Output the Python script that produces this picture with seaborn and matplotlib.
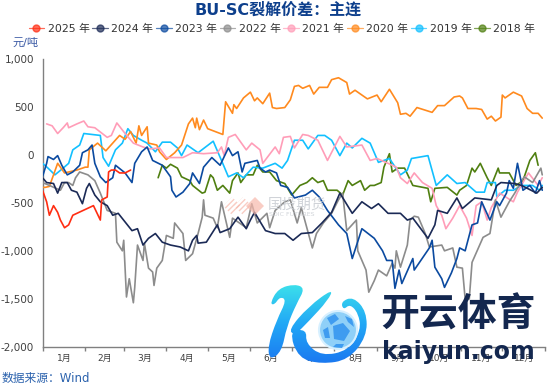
import matplotlib
matplotlib.use('Agg')
import matplotlib.pyplot as plt
from matplotlib.colors import LinearSegmentedColormap
from matplotlib.lines import Line2D
from matplotlib.patches import Circle, PathPatch, Polygon
from matplotlib.path import Path
from matplotlib.ticker import FuncFormatter
import numpy as np
import seaborn as sns

# x = day of year, y = yuan/ton
d2025 = [0, 3, 5, 8, 11, 13, 16, 19, 22, 25, 34, 37, 42, 43, 47, 48, 50, 53, 56, 60, 64]
v2025 = [-370, -490, -630, -530, -600, -680, -760, -730, -630, -610, -550, -530, -680, -470, -440, -180, -160, -160, -190, -190, -160]

d2024 = [0, 3, 8, 11, 14, 18, 21, 25, 29, 32, 34, 38, 42, 47, 51, 55, 60, 65, 69, 73, 77, 82, 87, 93, 100, 106, 109, 112, 113, 119, 127, 129, 136, 142, 148, 151, 154, 162, 169, 176, 182, 188, 196, 203, 210, 216, 225, 232, 239, 244, 251, 260, 265, 269, 280, 285, 287, 294, 301, 305, 314, 326, 330, 333, 343, 348, 359, 363]
v2024 = [-240, -290, -300, -400, -290, -290, -370, -390, -510, -350, -300, -420, -490, -530, -630, -610, -700, -790, -770, -940, -870, -820, -910, -940, -960, -1000, -890, -840, -920, -910, -730, -810, -770, -650, -770, -680, -600, -790, -820, -820, -890, -820, -810, -710, -600, -400, -610, -490, -560, -510, -610, -610, -680, -660, -870, -730, -580, -610, -450, -560, -450, -470, -320, -290, -300, -320, -400, -340]

d2023 = [0, 3, 4, 8, 11, 14, 18, 22, 27, 29, 33, 36, 38, 42, 46, 51, 53, 60, 65, 67, 72, 76, 80, 87, 93, 94, 97, 102, 107, 109, 114, 117, 123, 129, 135, 138, 142, 145, 147, 156, 158, 162, 165, 170, 173, 178, 183, 191, 196, 201, 207, 215, 221, 225, 232, 241, 247, 250, 254, 256, 259, 261, 269, 270, 281, 283, 285, 290, 292, 297, 301, 303, 307, 312, 316, 319, 325, 330, 332, 337, 339, 342, 345, 349, 354, 358, 361, 363]
v2023 = [-230, -90, -20, -50, -10, -110, -210, -180, -110, 20, 50, 100, -90, -230, -290, -240, -110, -190, -290, -90, 30, 80, -60, -110, -230, -370, -440, -390, -300, -190, -300, -130, -30, -110, 70, -10, 30, -180, -90, -60, -140, -180, -160, -190, -320, -340, -450, -420, -370, -440, -580, -730, -820, -1080, -770, -870, -1000, -1100, -1100, -1390, -1200, -1340, -1080, -1200, -970, -890, -1170, -1290, -1380, -1230, -1080, -970, -1000, -730, -710, -490, -680, -490, -530, -400, -270, -350, -90, -370, -320, -400, -270, -370]

d2022 = [0, 5, 13, 16, 19, 22, 24, 27, 33, 38, 42, 47, 53, 54, 58, 59, 61, 63, 66, 67, 69, 73, 74, 77, 80, 81, 83, 87, 90, 95, 96, 102, 104, 109, 113, 116, 117, 118, 124, 127, 130, 136, 138, 143, 148, 152, 156, 163, 165, 169, 176, 180, 185, 188, 196, 199, 204, 210, 215, 218, 221, 228, 229, 235, 237, 241, 244, 250, 254, 256, 257, 260, 265, 267, 270, 273, 278, 281, 290, 292, 298, 301, 305, 307, 310, 312, 320, 325, 329, 333, 339, 343, 348, 350, 356, 362, 363]
v2022 = [-290, -320, -370, -290, -290, -320, -240, -180, -210, -270, -400, -580, -610, -910, -1000, -890, -1480, -1290, -1540, -1380, -940, -1100, -920, -1180, -1220, -1360, -1180, -1100, -840, -870, -710, -820, -1100, -1030, -820, -650, -470, -630, -660, -760, -490, -860, -660, -710, -760, -510, -710, -610, -760, -580, -490, -470, -710, -550, -970, -820, -710, -610, -470, -400, -790, -680, -1000, -1200, -1430, -1310, -1200, -1260, -1130, -1180, -1000, -1170, -940, -680, -640, -650, -820, -960, -940, -1000, -970, -1170, -1180, -1500, -1500, -1120, -860, -820, -470, -650, -490, -400, -270, -230, -290, -140, -210]

d2021 = [3, 7, 11, 15, 18, 19, 25, 30, 33, 38, 47, 50, 54, 60, 66, 73, 78, 85, 90, 102, 109, 117, 127, 130, 132, 135, 140, 148, 152, 158, 160, 169, 172, 175, 180, 183, 189, 193, 200, 207, 216, 221, 232, 238, 243, 251, 257, 260, 265, 270, 276, 283, 286, 290, 293, 298, 303, 308, 312, 315, 319, 323, 326, 332, 342, 345, 353, 360, 363]
v2021 = [320, 300, 220, 280, 330, 280, 320, 350, 290, 280, 180, 200, 330, 220, 120, 80, 60, 70, -30, -30, 20, 10, 20, 80, -10, 180, 210, 50, 120, 50, -90, 80, 10, 180, 190, 70, 210, 200, 150, -60, 190, 80, 100, -60, -40, -90, -130, -240, -300, -190, -290, -350, -530, -630, -770, -660, -530, -660, -840, -530, -490, -680, -550, -400, -490, -390, -190, -320, -240]

d2020 = [0, 2, 5, 8, 11, 16, 25, 31, 33, 34, 40, 46, 51, 56, 60, 64, 68, 70, 72, 76, 77, 83, 85, 90, 96, 101, 106, 109, 111, 112, 114, 117, 120, 131, 133, 138, 139, 141, 146, 151, 154, 156, 160, 165, 167, 170, 176, 180, 183, 186, 189, 194, 197, 201, 207, 210, 215, 221, 223, 227, 231, 236, 243, 246, 252, 258, 260, 264, 267, 272, 283, 287, 292, 299, 303, 305, 309, 315, 319, 323, 326, 329, 333, 334, 336, 342, 348, 352, 356, 360, 363]
v2020 = [-340, -340, -330, -210, -90, -190, -160, -130, -130, 50, 120, 40, 120, 200, 160, 240, 120, 300, 200, 290, 120, 100, 30, -50, 20, 100, 320, 380, 280, 380, 260, 360, 270, 210, 550, 430, 520, 480, 590, 650, 560, 590, 530, 640, 490, 480, 490, 570, 710, 720, 690, 720, 630, 700, 700, 780, 800, 750, 630, 670, 630, 580, 620, 550, 680, 540, 420, 430, 400, 490, 440, 510, 510, 600, 610, 590, 480, 480, 470, 370, 400, 350, 390, 620, 590, 650, 610, 480, 430, 430, 380]

d2019 = [0, 4, 9, 15, 19, 22, 27, 30, 42, 44, 48, 53, 58, 62, 66, 72, 76, 82, 87, 93, 98, 101, 105, 113, 124, 130, 135, 141, 146, 153, 160, 169, 174, 178, 183, 189, 193, 200, 205, 210, 216, 221, 225, 232, 238, 244, 252, 260, 265, 268, 280, 286, 294, 301, 307, 315, 321, 323, 329, 330, 336, 342, 348, 356, 361, 363]
v2019 = [-90, -140, -210, -140, -90, 50, 100, 220, 200, -30, -120, 50, 120, 270, 200, 150, 120, 30, 130, 130, 70, -10, 100, 20, 140, -60, -230, -190, -240, -130, -140, -90, -140, -60, 150, 150, 60, 200, 200, 150, -10, 120, 70, 170, 120, -80, -40, -210, -160, -40, -10, -320, -210, -300, -290, -390, -390, -290, -290, -440, -370, -370, -320, -320, -370, -320]

d2018 = [84, 87, 90, 93, 98, 101, 107, 109, 116, 118, 122, 124, 127, 131, 136, 138, 142, 144, 148, 153, 156, 160, 165, 170, 176, 181, 187, 192, 196, 200, 204, 207, 214, 218, 222, 225, 231, 234, 238, 241, 246, 248, 252, 254, 258, 263, 269, 280, 282, 285, 294, 301, 303, 308, 312, 314, 318, 323, 326, 331, 332, 339, 344, 349, 354, 358, 360]
v2018 = [-240, -110, -140, -100, -140, -230, -270, -320, -400, -390, -210, -240, -370, -320, -400, -270, -190, -290, -210, -210, -110, -180, -180, -270, -300, -420, -320, -290, -240, -290, -270, -370, -370, -420, -270, -320, -270, -370, -320, -320, -290, -130, 10, -180, -140, -140, -320, -350, -490, -350, -340, -420, -370, -320, -140, -180, -90, -240, -320, -140, -190, -190, -320, -270, -60, 20, -110]

years = ['2025 年', '2024 年', '2023 年', '2022 年', '2021 年', '2020 年', '2019 年', '2018 年']
colors = ['#ff2d12', '#1b2a56', '#0b4aa0', '#8c8c8c', '#ff9db8', '#ff8a1e', '#12c0ff', '#4f7f10']
days = [d2025, d2024, d2023, d2022, d2021, d2020, d2019, d2018]
vals = [v2025, v2024, v2023, v2022, v2021, v2020, v2019, v2018]

month_starts = [0, 31, 59, 90, 120, 151, 181, 212, 243, 273, 304, 334, 365]
month_names = ['1月', '2月', '3月', '4月', '5月', '6月', '7月', '8月', '9月', '10月', '11月', '12月']

sns.set_theme(style='white')
plt.rcParams['font.family'] = ['DejaVu Sans', 'Noto Sans CJK SC']

fig = plt.figure(figsize=(5.5, 3.85), dpi=100)
ax = fig.add_axes([42.5 / 550, 1 - 347 / 385, 502.5 / 550, 288.5 / 385])

# newest years end up on top
for i in range(len(years) - 1, -1, -1):
    sns.lineplot(x=days[i], y=vals[i], color=colors[i], linewidth=1.2, sort=False,
                 errorbar=None, ax=ax, zorder=3 + len(years) - i)

ax.set_xlim(0, 365)
ax.set_ylim(-2000, 1000)
ax.set_yticks([1000, 500, 0, -500, -1000, -1500, -2000])
ax.yaxis.set_major_formatter(FuncFormatter(lambda v, p: f'{int(v):,}'))
ax.tick_params(axis='y', labelsize=7.5, length=3, width=1, color='#808080', labelcolor='#404040', pad=3)
ax.set_xticks(month_starts)
ax.set_xticklabels([])
ax.set_xticks([(month_starts[i] + month_starts[i + 1]) / 2 for i in range(12)], minor=True)
ax.set_xticklabels(month_names, minor=True, fontsize=6.5, color='#404040')
ax.tick_params(axis='x', which='major', length=3, width=1, color='#808080', bottom=True)
ax.tick_params(axis='x', which='minor', length=0, bottom=False, pad=5)
sns.despine(ax=ax)
for s in ['left', 'bottom']:
    ax.spines[s].set_color('#808080')
    ax.spines[s].set_linewidth(1.0)
ax.set_xlabel('')
ax.set_ylabel('')

fig.text(278.5 / 550, 1 - 10 / 385, 'BU-SC裂解价差：主连', ha='center', va='center', fontsize=11.5,
         fontweight='bold', color='#0d3f8c')
fig.text(12 / 550, 1 - 43 / 385, '元/吨', ha='left', va='center', fontsize=8, color='#3b5aa5')
fig.text(2 / 550, 1 - 378 / 385, '数据来源：Wind', ha='left', va='center', fontsize=8.5, color='#2b62ad')

handles = [Line2D([], [], color=c, linewidth=0.9, alpha=0.7, marker='o', markersize=5,
                  markerfacecolor=c, markeredgecolor=c) for c in colors]
fig.legend(handles, years, loc='center', bbox_to_anchor=(282 / 550, 1 - 29 / 385), ncol=8, frameon=False,
           fontsize=7.8, labelcolor='#333333', handlelength=1.45, handletextpad=0.3, columnspacing=0.25,
           borderpad=0, borderaxespad=0)

# watermarks on top of the chart
over = fig.add_axes([0, 0, 1, 1], zorder=20)
over.patch.set_alpha(0)
for cx, hatch in [(232, '//////'), (243, '//////'), (255, None)]:
    over.add_patch(Polygon([(cx - 9, 206), (cx, 197), (cx + 9, 206), (cx, 215)], closed=True,
                           facecolor='#f7b8ab' if hatch is None else 'none',
                           edgecolor='#f7b8ab', hatch=hatch, lw=0, alpha=0.7))
over.text(268, 204, '国投期货', fontsize=10.5, color='#c8ccd2', alpha=0.85, va='center', ha='left')
over.text(269, 214, 'SDIC FUTURES', fontsize=4.5, color='#c8ccd2', alpha=0.85, va='center', ha='left')

over.text(458, 315, '开云体育', fontsize=28, fontweight='bold', color='#13274f', ha='center', va='center')
over.text(458, 352, 'kaiyun.com', fontsize=17, fontweight='bold', color='#13274f', ha='center', va='center')


# logo outline, smoothed through the midpoints of each list
def smooth(pts):
    pts = [(265 + x / 3, 280 + y / 3) for x, y in pts]
    verts = [((pts[-1][0] + pts[0][0]) / 2, (pts[-1][1] + pts[0][1]) / 2)]
    codes = [Path.MOVETO]
    for j, p in enumerate(pts):
        q = pts[(j + 1) % len(pts)]
        verts += [p, ((p[0] + q[0]) / 2, (p[1] + q[1]) / 2)]
        codes += [Path.CURVE3, Path.CURVE3]
    return Path(verts, codes)


left_stroke = [(15, 70), (40, 25), (90, 12), (120, 25), (95, 70), (65, 140), (50, 215), (15, 240),
               (8, 200), (35, 120), (65, 60), (45, 50), (28, 75)]
arm = [(70, 150), (130, 80), (205, 25), (190, 60), (130, 125), (90, 165)]
bowl = [(72, 152), (125, 148), (122, 190), (170, 228), (250, 212), (288, 150), (280, 100), (255, 72),
        (235, 90), (228, 65), (265, 50), (305, 95), (305, 170), (250, 240), (170, 252), (100, 235)]
paths = Path.make_compound_path(smooth(left_stroke), smooth(arm), smooth(bowl))
grad = np.linspace(0, 1, 120).reshape(-1, 1)
cmap = LinearSegmentedColormap.from_list('logo', ['#3fe6ea', '#22a8f6', '#1a74f0'])
im = over.imshow(grad, extent=(265, 375, 367, 280), cmap=cmap, aspect='auto')
im.set_clip_path(PathPatch(paths, transform=over.transData))

over.add_patch(Circle((338, 330), 19, facecolor='#8fd0f8', edgecolor='#d7f0ff', lw=1.5))
over.add_patch(Polygon([(333, 326), (343, 323), (350, 331), (344, 341), (334, 339)], color='#3f9cf0', lw=0))
over.add_patch(Polygon([(327, 318), (335, 314), (339, 319), (331, 325)], color='#3f9cf0', lw=0))
over.add_patch(Polygon([(345, 316), (352, 319), (354, 327), (348, 322)], color='#3f9cf0', lw=0))
over.add_patch(Polygon([(323, 330), (328, 327), (330, 338), (325, 338)], color='#3f9cf0', lw=0))
over.add_patch(Polygon([(336, 344), (344, 344), (342, 348), (333, 347)], color='#3f9cf0', lw=0))

over.set_xlim(0, 550)
over.set_ylim(385, 0)
over.axis('off')

fig.savefig('out.png', dpi=100)
